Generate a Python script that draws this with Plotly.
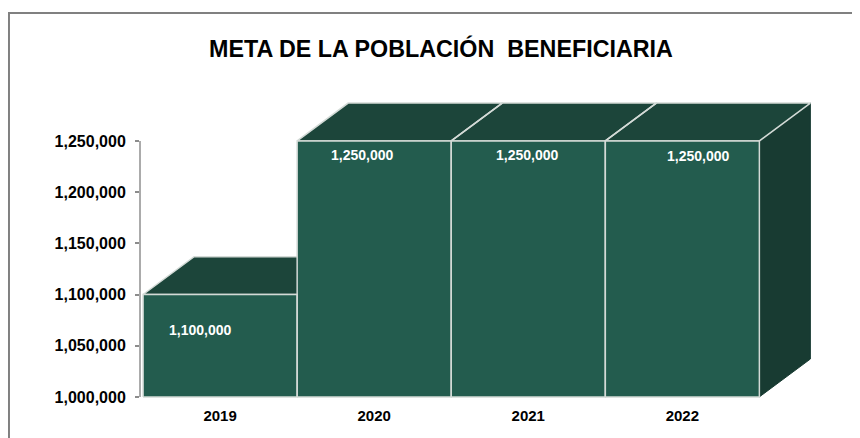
import plotly.graph_objects as go

# ---- data ----
years = ["2019", "2020", "2021", "2022"]
values = [1100000, 1250000, 1250000, 1250000]
y_ticks = [1000000, 1050000, 1100000, 1150000, 1200000, 1250000]
y_tick_labels = ["1,000,000", "1,050,000", "1,100,000", "1,150,000", "1,200,000", "1,250,000"]
title_text = "META DE LA POBLACIÓN  BENEFICIARIA"

# ---- style ----
Y_MIN = 1000000
DX = 0.331          # 3D depth (category units)
DY = 37000          # 3D depth (value units)
FRONT = "#235C4E"
TOP = "#1C453A"
SIDE = "#183B32"
EDGE = "#D3DAD6"
FONT = "Liberation Sans, Arial, sans-serif"
LABEL_DX = [-0.13, -0.08, -0.01, 0.10]
LABEL_DY = [-35000, -13700, -13700, -15000]

def fmt(v):
    return f"{v:,}"

xs = list(range(len(years)))

top_x, top_y, side_x, side_y, front_x, front_y = [], [], [], [], [], []
for i, v in zip(xs, values):
    l, r = i - 0.5, i + 0.5
    top_x += [l, r, r + DX, l + DX, l, None]
    top_y += [v, v, v + DY, v + DY, v, None]
    side_x += [r, r + DX, r + DX, r, r, None]
    side_y += [Y_MIN, Y_MIN + DY, v + DY, v, Y_MIN, None]
    front_x += [l, r, r, l, l, None]
    front_y += [Y_MIN, Y_MIN, v, v, Y_MIN, None]

fig = go.Figure()
fig.add_trace(go.Scatter(x=side_x, y=side_y, mode="lines", fill="toself",
                         fillcolor=SIDE, line=dict(color=SIDE, width=1),
                         hoverinfo="skip", showlegend=False))
fig.add_trace(go.Scatter(x=top_x, y=top_y, mode="lines", fill="toself",
                         fillcolor=TOP, line=dict(color=EDGE, width=1.5),
                         hoverinfo="skip", showlegend=False))
fig.add_trace(go.Scatter(x=front_x, y=front_y, mode="lines", fill="toself",
                         fillcolor=FRONT, line=dict(color=EDGE, width=1.5),
                         hoverinfo="skip", showlegend=False))

for i, v in zip(xs, values):
    fig.add_annotation(x=i + LABEL_DX[i], y=v + LABEL_DY[i], xref="x", yref="y",
                       text="<b>" + fmt(v) + "</b>", showarrow=False,
                       font=dict(family=FONT, size=14, color="white"))

# y axis line
fig.add_shape(type="line", xref="paper", yref="y", x0=0, x1=0,
              y0=y_ticks[0], y1=y_ticks[-1], line=dict(color="#ABABAB", width=2))
# outer border
fig.add_shape(type="rect", xref="paper", yref="paper",
              x0=-0.1924, x1=1.2, y0=-0.3, y1=1.289,
              line=dict(color="#808080", width=2), fillcolor="rgba(0,0,0,0)")

fig.update_layout(
    width=860, height=438,
    margin=dict(l=132, r=47, t=92, b=45),
    paper_bgcolor="white", plot_bgcolor="white",
    title=dict(text="<b>" + title_text + "</b>", x=0.442, xref="paper",
               y=1 - 40.5 / 438, yref="container", xanchor="center", yanchor="middle",
               font=dict(family=FONT, size=23.3, color="black")),
    xaxis=dict(range=[-0.52, 3.9], tickvals=xs, ticktext=["<b>" + y + "</b>" for y in years],
               showgrid=False, zeroline=False, showline=False, ticks="",
               tickfont=dict(family=FONT, size=15, color="black"), ticklabelstandoff=4),
    yaxis=dict(range=[996000, 1290000], tickvals=y_ticks,
               ticktext=["<b>" + t + "</b>" for t in y_tick_labels],
               showgrid=False, zeroline=False, showline=False,
               ticks="outside", ticklen=4, tickcolor="#8C8C8C", tickwidth=1.5,
               tickfont=dict(family=FONT, size=16, color="black"), ticklabelstandoff=6),
)

fig.write_html("out.html")
